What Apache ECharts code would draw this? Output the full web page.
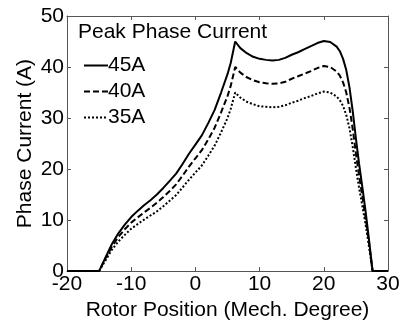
<!DOCTYPE html>
<html>
<head>
<meta charset="utf-8">
<script src="https://cdn.jsdelivr.net/npm/echarts@6/dist/echarts.min.js"></script>
<style>
html,body{margin:0;padding:0;background:#fff;}
#chart{width:405px;height:326px;}
</style>
</head>
<body>
<div id="chart"></div>
<script>
// Rotor position (mech. degree)
var xPos = [-20,-15,-14,-13,-12,-11,-10,-9,-8,-7,-6,-5,-4,-3,-2,-1,0,1,2,3,4,5,5.5,6.2,7,8,9,10,11,12,13,14,15,16,17,18,19,20,21,22,22.5,23,23.5,24,24.5,25,25.5,26,26.5,27,27.6,30];
// Phase current (A) for each peak phase current
var cur45 = [0,0,2.7,5.3,7.4,9.1,10.6,11.8,12.9,13.9,15.0,16.3,17.7,19.1,21.0,23.0,24.8,26.6,29.0,31.6,35.0,38.6,40.8,45.0,43.7,42.7,42.0,41.6,41.4,41.3,41.4,41.8,42.4,42.9,43.5,44.1,44.7,45.1,44.9,44.0,43.1,41.6,39.4,36.0,31.4,26.0,21.0,16.5,11.8,6.6,0,0];
var cur40 = [0,0,2.5,4.8,6.7,8.2,9.5,10.5,11.5,12.4,13.4,14.5,15.7,17.0,18.7,20.5,22.1,23.7,25.8,28.1,31.1,34.3,36.3,40.0,38.9,38.0,37.4,37.0,36.8,36.7,36.8,37.1,37.7,38.2,38.7,39.2,39.8,40.2,40.0,39.1,38.3,37.0,35.0,32.0,27.9,23.1,18.7,14.7,10.5,5.9,0,0];
var cur35 = [0,0,2.1,4.2,5.8,7.1,8.3,9.2,10.1,10.9,11.7,12.7,13.8,14.9,16.4,17.9,19.3,20.7,22.6,24.6,27.2,30.0,31.8,35.0,34.0,33.2,32.7,32.3,32.2,32.1,32.2,32.5,33.0,33.4,33.9,34.3,34.8,35.2,35.0,34.2,33.5,32.4,30.6,28.0,24.4,20.2,16.3,12.8,9.2,5.1,0,0];
var seriesNames = ['45A','40A','35A'];
var xTicks = [-20,-10,0,10,20,30];
var yTicks = [0,10,20,30,40,50];

function pairs(xs, ys){ return xs.map(function(x,i){ return [x, ys[i]]; }); }

var FONT = '"Liberation Sans", Arial, sans-serif';
var AX = '#555';
var chart = echarts.init(document.getElementById('chart'), null, {renderer:'canvas'});

var baseAxisLine = {show:true, onZero:false, lineStyle:{color:AX, width:1}};
var tickIn = {show:true, inside:true, length:4, lineStyle:{color:AX, width:1}};

chart.setOption({
  animation:false,
  backgroundColor:'#fff',
  title:{
    text:'Peak Phase Current', left:73, top:17,
    textStyle:{fontFamily:FONT, fontSize:21, fontWeight:'normal', color:'#000'}
  },
  legend:{
    data:seriesNames, orient:'vertical', left:78, top:50,
    itemWidth:24, itemHeight:14, itemGap:5,
    itemStyle:{opacity:0},
    textStyle:{fontFamily:FONT, fontSize:21, color:'#000', padding:[0,0,0,-5]}
  },
  grid:{left:67, right:17, top:16, bottom:50, show:false},
  xAxis:[{
    type:'value', min:xTicks[0], max:xTicks[xTicks.length-1], interval:10,
    name:'Rotor Position (Mech. Degree)', nameLocation:'middle', nameGap:25,
    nameTextStyle:{fontFamily:FONT, fontSize:21, color:'#000'},
    axisLine:baseAxisLine, axisTick:tickIn, splitLine:{show:false},
    axisLabel:{fontFamily:FONT, fontSize:21, color:'#000', margin:3}
  },{
    type:'value', position:'top', min:xTicks[0], max:xTicks[xTicks.length-1], interval:10,
    axisLine:baseAxisLine, axisTick:tickIn, splitLine:{show:false}, axisLabel:{show:false}
  }],
  yAxis:[{
    type:'value', min:yTicks[0], max:yTicks[yTicks.length-1], interval:10,
    name:'Phase Current (A)', nameLocation:'middle', nameGap:31, nameMoveOverlap:false,
    nameTextStyle:{fontFamily:FONT, fontSize:21, color:'#000'},
    axisLine:baseAxisLine, axisTick:tickIn, splitLine:{show:false},
    axisLabel:{fontFamily:FONT, fontSize:21, color:'#000', margin:3}
  },{
    type:'value', position:'right', min:yTicks[0], max:yTicks[yTicks.length-1], interval:10,
    axisLine:baseAxisLine, axisTick:tickIn, splitLine:{show:false}, axisLabel:{show:false}
  }],
  series:[
    {name:seriesNames[0], type:'line', data:pairs(xPos,cur45), symbol:'none', smooth:false,
     lineStyle:{color:'#000', width:2, type:'solid'}, itemStyle:{color:'#000'}},
    {name:seriesNames[1], type:'line', data:pairs(xPos,cur40), symbol:'none', smooth:false,
     lineStyle:{color:'#000', width:2, type:[6,3]}, itemStyle:{color:'#000'}},
    {name:seriesNames[2], type:'line', data:pairs(xPos,cur35), symbol:'none', smooth:false,
     lineStyle:{color:'#000', width:2, type:[2,2]}, itemStyle:{color:'#000'}}
  ]
});
</script>
</body>
</html>
